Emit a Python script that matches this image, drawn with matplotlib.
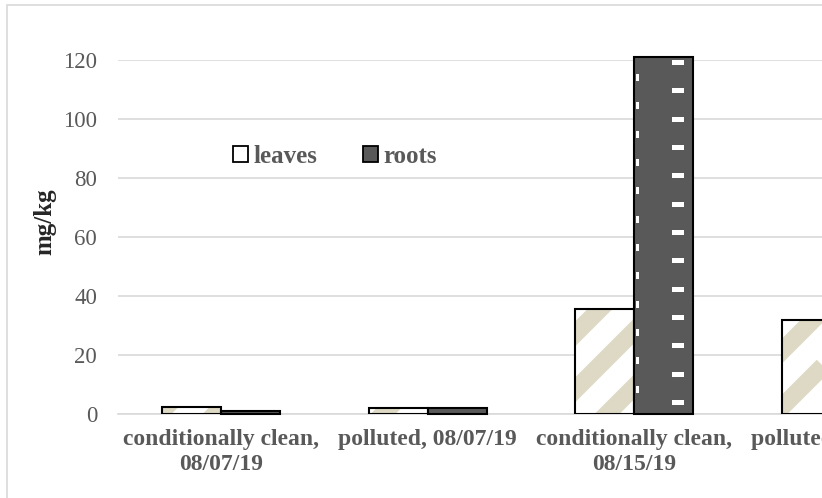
import matplotlib.pyplot as plt
from matplotlib.patches import Rectangle
import numpy as np

# Данные (mg/kg)
categories = ["conditionally clean,\n08/07/19", "polluted, 08/07/19",
              "conditionally clean,\n08/15/19", "polluted, 08/15/19"]
leaves = [2.4, 2.0, 35.5, 32.0]
roots = [1.0, 2.0, 121.0, 5.0]
yticks = [0, 20, 40, 60, 80, 100, 120]

W, H, DPI = 822, 498, 100
grey_txt = '#595959'
grid_c = '#D9D9D9'
tan = '#DDD9C4'
dark = '#595959'

plt.rcParams['font.family'] = ['Liberation Serif', 'DejaVu Serif']

fig = plt.figure(figsize=(W / DPI, H / DPI), dpi=DPI)

# область графика в пикселях (обрезана справа, как в оригинале)
left_px, right_px, top_px, bot_px = 118, 822, 60, 414
ax = fig.add_axes([left_px / W, 1 - bot_px / H,
                   (right_px - left_px) / W, (bot_px - top_px) / H])

cat_px = 206.5  # шаг категорий в пикселях
xmin = -0.5
xmax = xmin + (right_px - left_px) / cat_px
ppu_x = cat_px
ppu_y = (bot_px - top_px) / 120.0

x = np.arange(len(categories))
bw = 59 / cat_px

ax.set_axisbelow(True)
ax.yaxis.grid(True, color=grid_c, lw=1.2)
for s in ['top', 'right', 'left']:
    ax.spines[s].set_visible(False)
ax.spines['bottom'].set_color(grid_c)
ax.spines['bottom'].set_linewidth(1.2)

# листья: белые столбцы с диагональной штриховкой
leaf_bars = ax.bar(x - bw / 2, leaves, bw, color='white', edgecolor='none', zorder=2)
for b in leaf_bars:
    x0 = b.get_x()
    px0 = left_px + (x0 - xmin) * ppu_x
    px1 = px0 + bw * ppu_x
    xs = np.array([px0 - 10, px1 + 10])
    for c in np.arange(-1000, 1000, 56) + 11:
        xd = xmin + (xs - left_px) / ppu_x
        yd = ((xs - c) - (H - bot_px)) / ppu_y
        ln, = ax.plot(xd, yd, color=tan, lw=12.7, solid_capstyle='butt',
                      zorder=2.5, scalex=False, scaley=False)
        ln.set_clip_path(b)
ax.bar(x - bw / 2, leaves, bw, fill=False, edgecolor='black', lw=1.5, zorder=3)

# корни: тёмно-серые столбцы с белыми штрихами
root_bars = ax.bar(x + bw / 2, roots, bw, color=dark, edgecolor='black', lw=1.5,
                   zorder=3, clip_on=False)
for b in root_bars:
    x0, h = b.get_x(), b.get_height()
    if x0 > xmax:
        b.set_visible(False)
        continue
    for k in range(20):
        yb = (9 + 28.33 * k) / ppu_y
        if yb + 5 / ppu_y < h:
            ax.add_patch(Rectangle((x0 + 38 / ppu_x, yb), 12 / ppu_x, 5 / ppu_y,
                                   facecolor='white', edgecolor='none', zorder=3.5))
        yb2 = (21.3 + 28.33 * k) / ppu_y
        if yb2 + 7 / ppu_y < h:
            ax.add_patch(Rectangle((x0 + 2 / ppu_x, yb2), 3 / ppu_x, 7 / ppu_y,
                                   facecolor='white', edgecolor='none', zorder=3.5))

ax.set_yticks(yticks)
ax.set_yticklabels([str(v) for v in yticks], fontsize=16.5, color=grey_txt)
ax.tick_params(axis='y', length=0, pad=15)

# подписи категорий (последняя обрезана краем рисунка, как в оригинале)
ax.set_xticks([])
for xi, lab in zip(x, categories):
    ax.text(xi, -0.043, lab, transform=ax.get_xaxis_transform(),
            ha='center', va='top', multialignment='center', fontsize=17,
            fontweight='bold', color=grey_txt, linespacing=1.25, clip_on=False)

ax.set_ylabel('mg/kg', fontsize=18, fontweight='bold', color='#262626')
ax.yaxis.set_label_coords(-0.088, 0.544)

# легенда
h1 = Rectangle((0, 0), 1, 1, facecolor='white', edgecolor='black', lw=1.3)
h2 = Rectangle((0, 0), 1, 1, facecolor=dark, edgecolor='black', lw=1.3)
leg = ax.legend([h1, h2], ['leaves', 'roots'], loc='center',
                bbox_to_anchor=(0.308, 0.727), ncol=2, frameon=False,
                handlelength=0.6, handleheight=0.6, handletextpad=0.22,
                columnspacing=1.8, borderpad=0, prop={'size': 18, 'weight': 'bold'})
for t in leg.get_texts():
    t.set_color(grey_txt)

# рамка диаграммы
fig.patches.append(Rectangle((7 / W, -0.1), 1.2, 1.1 - 5 / H, transform=fig.transFigure,
                             fill=False, edgecolor=grid_c, lw=1.2))

ax.set_xlim(xmin, xmax)
ax.set_ylim(0, 120)

fig.savefig('out.png', dpi=DPI)
